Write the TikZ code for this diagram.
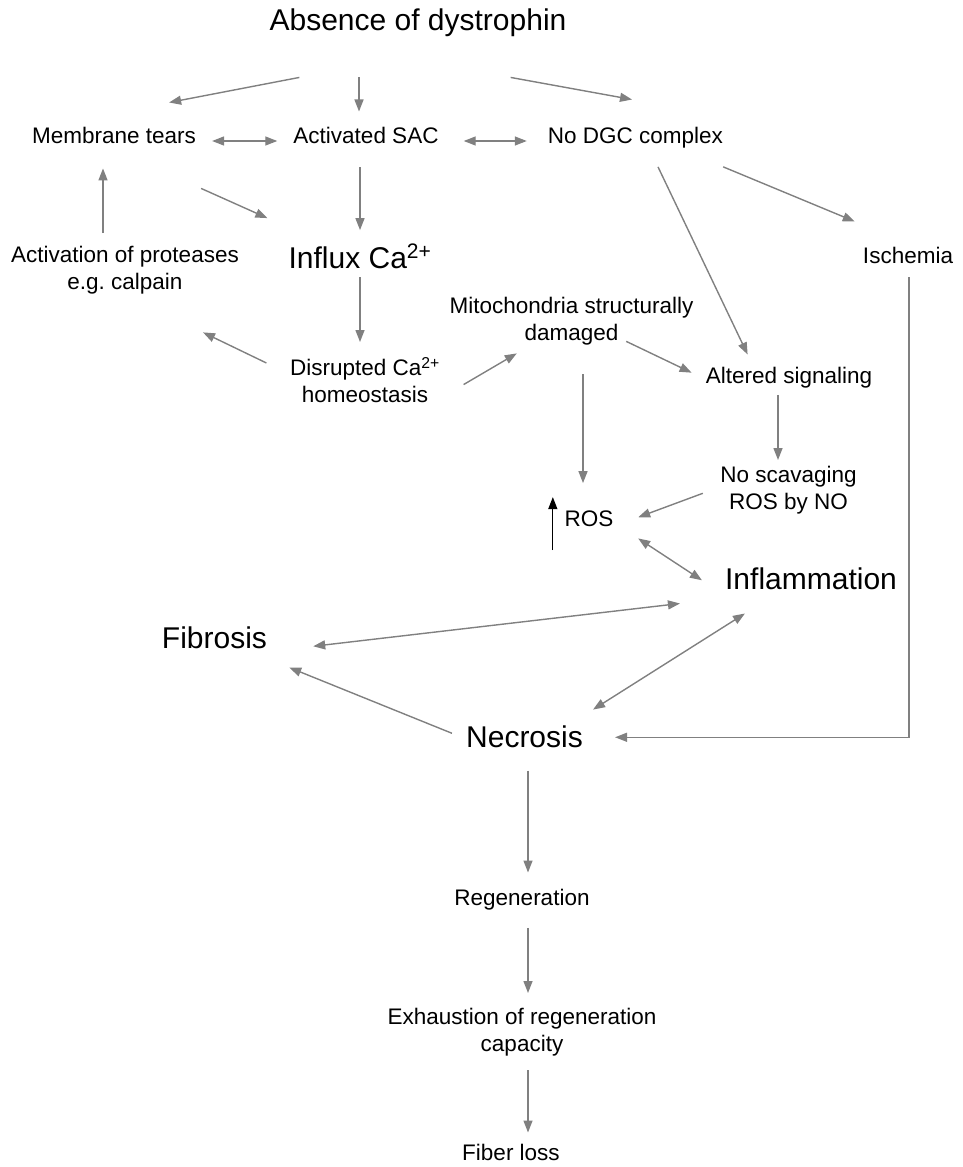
\documentclass[tikz,border=0pt]{standalone}
\usepackage{fontspec}
\setmainfont{Liberation Sans}
\usetikzlibrary{arrows.meta}
\definecolor{arrowgray}{RGB}{128,128,128}

\begin{document}
\begin{tikzpicture}[x=1pt,y=-1pt,
    txt/.style={inner sep=0pt,align=center,font=\fontsize{22.5}{27}\selectfont},
    bigtxt/.style={inner sep=0pt,font=\fontsize{30}{36}\selectfont},
    arr/.style={draw=arrowgray,line width=1.4pt,-{Triangle[length=12pt,width=9pt]}},
    dblarr/.style={arr,{Triangle[length=12pt,width=9pt]}-{Triangle[length=12pt,width=9pt]}}]
    \useasboundingbox (0,0) rectangle (962,1167);

    % Define the causes
    \node[bigtxt,anchor=base] (absence) at (418,30) {Absence of dystrophin};
    \node[txt,anchor=base] (membrane) at (114,143) {Membrane tears};
    \node[txt,anchor=base] (sac) at (366,143) {Activated SAC};
    \node[txt,anchor=base] (dgc) at (635.5,143) {No DGC complex};
    \node[bigtxt,anchor=base] (influx) at (360,268) {Influx Ca\textsuperscript{2+}};
    \node[txt,anchor=north] (proteases) at (125,246) {Activation of proteases\\e.g.\ calpain};
    \node[txt,anchor=base] (ischemia) at (908,263) {Ischemia};
    \node[txt,anchor=north] (mito) at (571.5,297) {Mitochondria structurally\\damaged};
    \node[txt,anchor=north] (disrupted) at (365,357) {Disrupted Ca\textsuperscript{2+}\\homeostasis};
    \node[txt,anchor=base] (altered) at (789,383) {Altered signaling};
    \node[txt,anchor=north] (scav) at (788.5,466) {No scavaging\\ROS by NO};
    \node[txt,anchor=base] (ros) at (589,526) {ROS};

    % Define the outcomes
    \node[bigtxt,anchor=base] (inflam) at (811,589) {Inflammation};
    \node[bigtxt,anchor=base] (fibrosis) at (214.5,648) {Fibrosis};
    \node[bigtxt,anchor=base] (necrosis) at (524.5,747) {Necrosis};
    \node[txt,anchor=base] (regen) at (522,905) {Regeneration};
    \node[txt,anchor=north] (exhaust) at (522,1008) {Exhaustion of regeneration\\capacity};
    \node[txt,anchor=base] (fiber) at (511,1160) {Fiber loss};

    % Draw the upper arrows
    \draw[arr] ([shift={(30,41)}]absence.south west) -- ([shift={(-27,-24)}]membrane.north east);
    \draw[arr] ([shift={(-59,41)}]absence.south) -- ([shift={(-7,-15)}]sac.north);
    \draw[arr] ([shift={(-56,41)}]absence.south east) -- ([shift={(-3.5,-27)}]dgc.north);
    \draw[dblarr] ([shift={(16,-2)}]membrane.base east) -- ([shift={(-16,-2)}]sac.base west);
    \draw[dblarr] ([shift={(25,-2)}]sac.base east) -- ([shift={(-21,-2)}]dgc.base west);
    \draw[arr] ([shift={(-6,24)}]sac.south) -- ([shift={(0,-14)}]influx.north);
    \draw[arr] ([shift={(5,45)}]membrane.south east) -- ([shift={(-21,-26)}]influx.north west);
    \draw[arr] ([shift={(-22,-13)}]proteases.north) -- ([shift={(-11,25)}]membrane.south);
    \draw[arr] ([shift={(22.5,19)}]dgc.south) -- ([shift={(42,-12)}]altered.north west);
    \draw[arr] ([shift={(0,19)}]dgc.south east) -- ([shift={(-8,-25)}]ischemia.north west);

    % Draw the middle arrows
    \draw[arr] ([shift={(0,9)}]influx.south) -- ([shift={(-5,-15)}]disrupted.north);
    \draw[arr] ([shift={(-23.5,6)}]disrupted.north west) -- ([shift={(78,38)}]proteases.south);
    \draw[arr] ([shift={(23.5,4.5)}]disrupted.east) -- ([shift={(67.4,8)}]mito.south west);
    \draw[arr] ([shift={(-67.4,-4)}]mito.south east) -- ([shift={(-14,-4.5)}]altered.west);
    \draw[arr] ([shift={(11.5,29)}]mito.south) -- ([shift={(-6,-27)}]ros.north);
    \draw[arr] ([shift={(-11,7)}]altered.south) -- ([shift={(-10.5,-6)}]scav.north);
    \draw[arr] ([shift={(-17.3,3.1)}]scav.west) -- ([shift={(24.6,-1)}]ros.east);
    \draw[line width=1.3pt,-{Triangle[length=12pt,width=9pt]}]
        ([shift={(-11.6,24)}]ros.base west) -- ([shift={(-11.6,-13)}]ros.north west);

    % Draw the lower arrows
    \draw[dblarr] ([shift={(24.6,12)}]ros.south east) -- ([shift={(-23,2)}]inflam.west);
    \draw[dblarr] ([shift={(46,9)}]fibrosis.east) -- ([shift={(-45,14)}]inflam.south west);
    \draw[dblarr] ([shift={(10,-15.5)}]necrosis.north east) -- ([shift={(20,24)}]inflam.south west);
    \draw[arr] ([shift={(-14,-3)}]necrosis.west) -- ([shift={(22,19)}]fibrosis.south east);
    \draw[arr] ([shift={(1,14)}]ischemia.south) |- ([shift={(32,1)}]necrosis.east);
    \draw[arr] ([shift={(3.5,23)}]necrosis.south) -- ([shift={(6,-16)}]regen.north);
    \draw[arr] ([shift={(6,18)}]regen.south) -- ([shift={(6,-15)}]exhaust.north);
    \draw[arr] ([shift={(6,14)}]exhaust.south) -- ([shift={(17,-11)}]fiber.north);
\end{tikzpicture}
\end{document}
